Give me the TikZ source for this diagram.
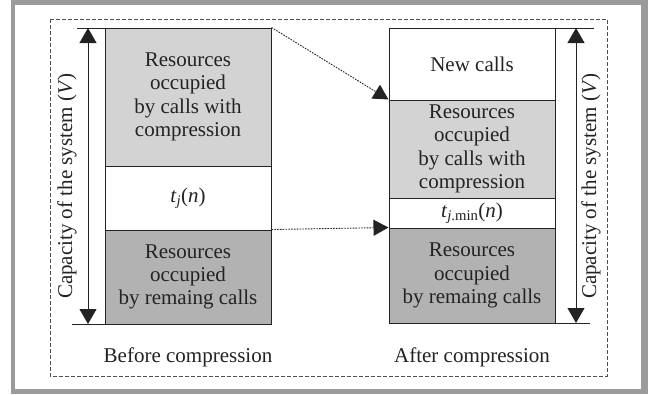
\documentclass[tikz,border=0pt]{standalone}
\usepackage{fontspec}
\setmainfont{Liberation Serif}
\usetikzlibrary{arrows.meta}
\definecolor{framegray}{RGB}{155,155,155}
\definecolor{lightg}{RGB}{211,211,211}
\definecolor{darkg}{RGB}{178,178,178}
\definecolor{ink}{RGB}{35,35,35}
\tikzset{
  sec/.style={draw=ink, line width=1pt, rectangle, inner sep=0pt, minimum width=166pt, align=center,
    font=\fontsize{21}{23.3}\selectfont, text=ink},
  caparrow/.style={draw=ink, line width=0.9pt, {Triangle[width=17pt,length=15pt]}-{Triangle[width=17pt,length=15pt]}},
  tickline/.style={draw=ink, line width=0.9pt},
  dotarrow/.style={draw=ink, line width=0.9pt, dash pattern=on 1.6pt off 1.2pt, -{Triangle[width=16pt,length=15pt]}},
  lbl/.style={font=\fontsize{21}{23.3}\selectfont, text=ink, inner sep=0pt},
}
\begin{document}
\begin{tikzpicture}[x=1pt,y=-1pt]
\useasboundingbox (0,0) rectangle (648,394);
% outer gray frame
\fill[framegray] (11,0) rectangle (648,394);
\fill[white] (15,5) rectangle (641,389);
% dashed frame
\draw[ink!80, line width=0.8pt, dash pattern=on 4pt off 2pt] (50,19) rectangle (607,376);

% left stack
\node[sec, fill=lightg, minimum height=138pt] (L1) at (188,97) {Resources\\occupied\\by calls with\\compression};
\node[sec, fill=white, minimum height=64pt] (L2) at (188,198) {\textit{t}\textsubscript{\textit{j}}(\textit{n})};
\node[sec, fill=darkg, minimum height=94pt] (L3) at (188,277) {Resources\\occupied\\by remaing calls};

% right stack
\node[sec, fill=white, minimum height=72pt] (R1) at (472,64) {New calls};
\node[sec, fill=lightg, minimum height=98pt] (R2) at (472,149) {Resources\\occupied\\by calls with\\compression};
\node[sec, fill=white, minimum height=30pt] (R3) at (472,213) {\textit{t}\textsubscript{\textit{j}.min}(\textit{n})};
\node[sec, fill=darkg, minimum height=95pt] (R4) at (472,275.5) {Resources\\occupied\\by remaing calls};

% left capacity arrow
\coordinate (LTa) at (77,28);  \coordinate (LTb) at (120,28);
\coordinate (LBa) at (72,324); \coordinate (LBb) at (117,324);
\coordinate (LT) at (88,28);   \coordinate (LB) at (88,324);
\draw[tickline] (LTa) -- (LTb);
\draw[tickline] (LBa) -- (LBb);
\draw[caparrow] (LT) -- (LB);
\node[lbl, rotate=90] (LC) at (67,186) {Capacity of the system (\textit{V})};

% right capacity arrow
\coordinate (RTa) at (551,28);  \coordinate (RTb) at (594,28);
\coordinate (RBa) at (546,323); \coordinate (RBb) at (590,323);
\coordinate (RT) at (576,28);   \coordinate (RB) at (576,323);
\draw[tickline] (RTa) -- (RTb);
\draw[tickline] (RBa) -- (RBb);
\draw[caparrow] (RT) -- (RB);
\node[lbl, rotate=90] (RC) at (591,186) {Capacity of the system (\textit{V})};

% dotted transfer arrows
\draw[dotarrow] (L1.north east) -- (R2.north west);
\draw[dotarrow] (L3.north east) -- (R4.north west);

% captions
\node[lbl] (BC) at (188,357) {Before compression};
\node[lbl] (AC) at (472,357) {After compression};
\end{tikzpicture}
\end{document}
